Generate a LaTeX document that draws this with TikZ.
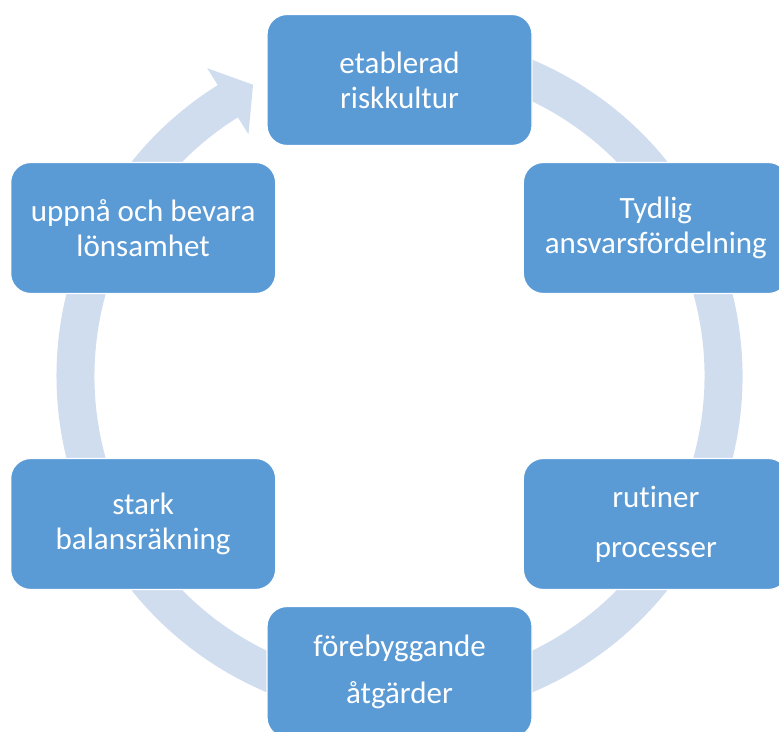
\documentclass[tikz,border=0pt]{standalone}
\usepackage{fontspec}
\setmainfont{Carlito}[Ligatures=NoCommon]
\usetikzlibrary{positioning,calc}
\definecolor{boxblue}{RGB}{91,155,213}
\definecolor{ringblue}{RGB}{208,221,238}

\begin{document}
\begin{tikzpicture}[x=1pt, y=1pt,
    cbox/.style={rectangle, draw=white, line width=1.2pt, fill=boxblue, text=white, align=center, minimum width=265pt, minimum height=131pt, rounded corners=20pt, font=\fontsize{31}{35}\selectfont}]

    \useasboundingbox (0,0) rectangle (779,731);
    \coordinate (c) at (399.5,355);

    % circular arrow behind the boxes
    \fill[ringblue] ($(c)+(100:343)$) arc[start angle=100, end angle=-238, radius=343]
        -- ($(c)+(-238:363)$) -- ($(c)+(-243.3:326)$) -- ($(c)+(-238:285)$)
        -- ($(c)+(-238:305)$) arc[start angle=-238, end angle=100, radius=305] -- cycle;

    \node[cbox] (k1) at ($(c)+(90:296)$) {etablerad\\riskkultur};
    \node[cbox] (k2) at ($(c)+(30:296)$) {Tydlig\\ansvarsfördelning};
    \node[cbox] (k3) at ($(c)+(-30:296)$) {rutiner\\[15pt]processer};
    \node[cbox] (k4) at ($(c)+(-90:296)$) {förebyggande\\[12pt]åtgärder};
    \node[cbox] (k5) at ($(c)+(-150:296)$) {stark\\balansräkning};
    \node[cbox] (k6) at ($(c)+(150:296)$) {uppnå och bevara\\lönsamhet};

\end{tikzpicture}
\end{document}
